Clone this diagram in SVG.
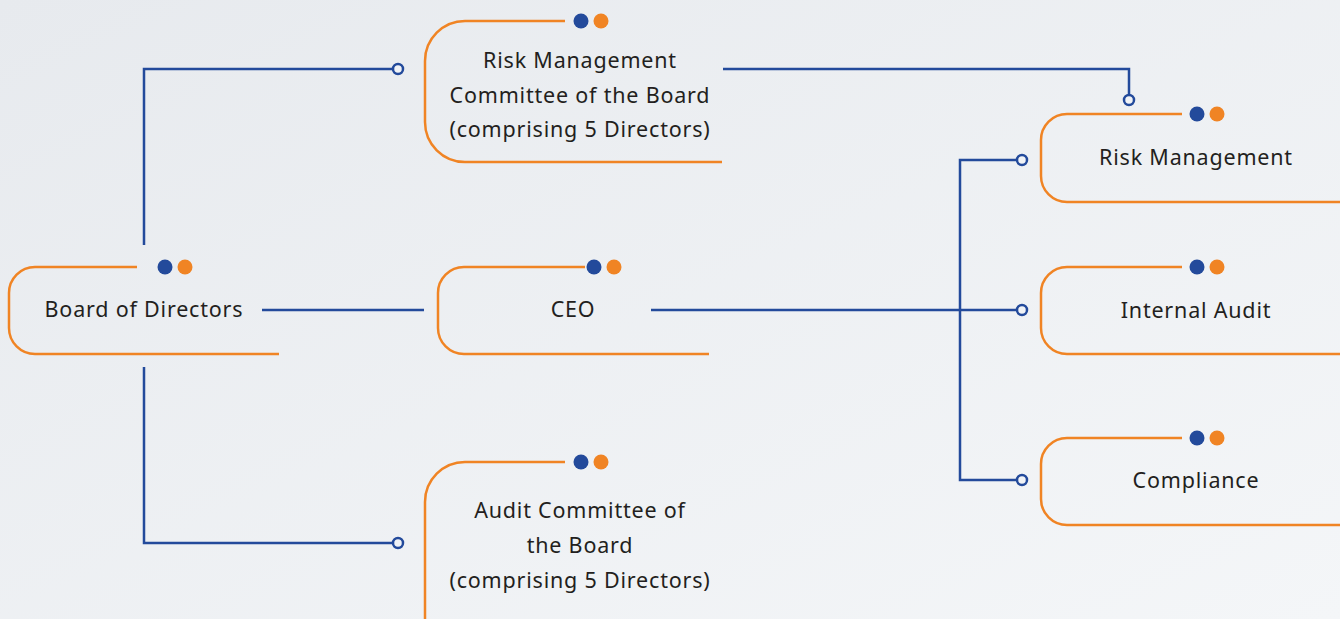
<svg xmlns="http://www.w3.org/2000/svg" width="1340" height="619" viewBox="0 0 1340 619">
<defs>
<linearGradient id="bg" x1="0" y1="0" x2="1" y2="1">
<stop offset="0" stop-color="#e7eaee"/>
<stop offset="1" stop-color="#f4f6f8"/>
</linearGradient>
</defs>
<style>
.box{fill:none;stroke:#f08424;stroke-width:2.5}
.db{fill:#234a9b}
.do{fill:#f08424}
.con{fill:none;stroke:#234a9b;stroke-width:2.5}
.end{fill:#f1f3f6;stroke:#234a9b;stroke-width:2.5}
.t{font-family:"Noto Sans",Lato,sans-serif;font-size:21.5px;fill:#231f20;text-anchor:middle;letter-spacing:0.8px}
</style>
<rect width="1340" height="619" fill="url(#bg)"/>
<g id="connectors">
<path class="con" d="M144 245 V69 H393"/>
<path class="con" d="M144 367 V543 H393"/>
<path class="con" d="M262 310 H424"/>
<path class="con" d="M651 310 H1016"/>
<path class="con" d="M1016 160 H960 V480 H1016"/>
<path class="con" d="M723 69 H1129 V95"/>
<circle class="end" cx="398" cy="69" r="5"/>
<circle class="end" cx="398" cy="543" r="5"/>
<circle class="end" cx="1022" cy="160" r="5"/>
<circle class="end" cx="1022" cy="310" r="5"/>
<circle class="end" cx="1022" cy="480" r="5"/>
<circle class="end" cx="1129" cy="100" r="5"/>
</g>
<g id="board">
<path class="box" d="M137 267 H35 A26 26 0 0 0 9 293 V328 A26 26 0 0 0 35 354 H279"/>
<circle class="db" cx="165" cy="267" r="7.5"/><circle class="do" cx="185" cy="267" r="7.5"/>
<text class="t" x="144" y="317">Board of Directors</text>
</g>
<g id="ceo">
<path class="box" d="M585 267 H464 A26 26 0 0 0 438 293 V328 A26 26 0 0 0 464 354 H709"/>
<circle class="db" cx="594" cy="267" r="7.5"/><circle class="do" cx="614" cy="267" r="7.5"/>
<text class="t" x="573" y="317">CEO</text>
</g>
<g id="rmc">
<path class="box" d="M565 21 H465 A40 40 0 0 0 425 61 V122 A40 40 0 0 0 465 162 H722"/>
<circle class="db" cx="581" cy="21" r="7.5"/><circle class="do" cx="601" cy="21" r="7.5"/>
<text class="t" x="580" y="68">Risk Management</text>
<text class="t" x="580" y="103">Committee of the Board</text>
<text class="t" x="580" y="137">(comprising 5 Directors)</text>
</g>
<g id="ac">
<path class="box" d="M565 462 H465 A40 40 0 0 0 425 502 V619"/>
<circle class="db" cx="581" cy="462" r="7.5"/><circle class="do" cx="601" cy="462" r="7.5"/>
<text class="t" x="580" y="518">Audit Committee of</text>
<text class="t" x="580" y="553">the Board</text>
<text class="t" x="580" y="588">(comprising 5 Directors)</text>
</g>
<g id="rm">
<path class="box" d="M1182 114 H1067 A26 26 0 0 0 1041 140 V176 A26 26 0 0 0 1067 202 H1340"/>
<circle class="db" cx="1197" cy="114" r="7.5"/><circle class="do" cx="1217" cy="114" r="7.5"/>
<text class="t" x="1196" y="165">Risk Management</text>
</g>
<g id="ia">
<path class="box" d="M1182 267 H1067 A26 26 0 0 0 1041 293 V328 A26 26 0 0 0 1067 354 H1340"/>
<circle class="db" cx="1197" cy="267" r="7.5"/><circle class="do" cx="1217" cy="267" r="7.5"/>
<text class="t" x="1196" y="318">Internal Audit</text>
</g>
<g id="comp">
<path class="box" d="M1182 438 H1067 A26 26 0 0 0 1041 464 V499 A26 26 0 0 0 1067 525 H1340"/>
<circle class="db" cx="1197" cy="438" r="7.5"/><circle class="do" cx="1217" cy="438" r="7.5"/>
<text class="t" x="1196" y="488">Compliance</text>
</g>
</svg>
